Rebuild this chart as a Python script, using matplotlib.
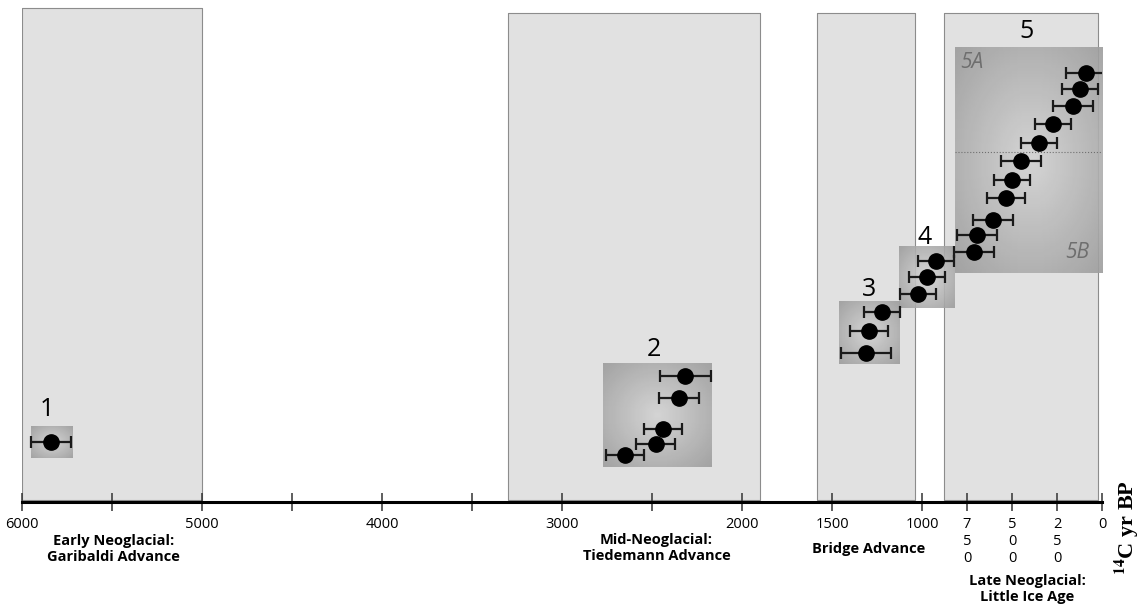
import numpy as np
import matplotlib
matplotlib.use("Agg")
import matplotlib.pyplot as plt

plt.rcParams['font.family'] = ['Open Sans', 'DejaVu Sans']
plt.rcParams['mathtext.fontset'] = 'stix'

# advance periods (14C yr BP) - shaded panels
period_start = [6000, 3300, 1585, 880]
period_end = [5000, 1900, 1040, 25]
period_top = [494, 489, 489, 489]

# sample groups: age, 1-sigma error, vertical position (arbitrary)
g1_age = [5840]
g1_err = [110]
g1_y = [60]

g2_age = [2315, 2350, 2440, 2480, 2650]
g2_err = [140, 110, 105, 110, 105]
g2_y = [126, 104, 73, 58, 47]

g3_age = [1225, 1295, 1310]
g3_err = [100, 105, 140]
g3_y = [190, 171, 149]

g4_age = [925, 970, 1020]
g4_err = [100, 100, 100]
g4_y = [241, 225, 208]

g5_age = [90, 125, 160, 275, 350, 450, 500, 535, 605, 695, 710]
g5_err = [110, 100, 110, 100, 100, 110, 100, 105, 110, 110, 110]
g5_y = [429, 413, 396, 378, 359, 341, 322, 304, 282, 267, 250]

# group boxes
box_x0 = [5952, 2771, 1459, 1128, 817]
box_x1 = [5724, 2168, 1122, 817, -20]
box_y0 = [44, 35, 138, 194, 229]
box_y1 = [76, 139, 201, 256, 455]

ticks = [6000, 5500, 5000, 4500, 4000, 3500, 3000, 2500, 2000, 1500, 1000, 750, 500, 250, 0]
tick_labels = ['6000', '', '5000', '', '4000', '', '3000', '', '2000', '1500', '1000',
               '7\n5\n0', '5\n0\n0', '2\n5\n0', '0']

fig = plt.figure(figsize=(11.44, 6.12), dpi=100)
ax = fig.add_axes([22 / 1144, 110 / 612, 1080 / 1144, 500 / 612])

for s, e, t in zip(period_start, period_end, period_top):
    ax.fill_between([s, e], 2, t, facecolor='#e1e1e1', edgecolor='#8c8c8c', lw=0.8, zorder=1)

# radial gradient boxes
yy, xx = np.mgrid[-1:1:80j, -1:1:80j]
r = np.clip(np.sqrt(xx ** 2 + yy ** 2) / 1.414, 0, 1)
grad = 0.83 - 0.22 * r
for x0, x1, y0, y1 in zip(box_x0, box_x1, box_y0, box_y1):
    ax.imshow(grad, cmap='gray', vmin=0, vmax=1, extent=(x0, x1, y0, y1),
              origin='lower', aspect='auto', alpha=0.9, zorder=2)

ax.plot([817, -20], [350, 350], ls=':', color='#6f6f6f', lw=0.8, zorder=2)

for a, e, y in [(g1_age, g1_err, g1_y), (g2_age, g2_err, g2_y), (g3_age, g3_err, g3_y),
                (g4_age, g4_err, g4_y), (g5_age, g5_err, g5_y)]:
    ax.errorbar(a, y, xerr=e, fmt='o', color='black', ecolor='#1a1a1a', ms=11,
                elinewidth=1.6, capsize=4, capthick=1.6, zorder=3)

# group numbers
ax.text(5861, 92, '1', fontsize=18, ha='center', va='center', zorder=4)
ax.text(2489, 152, '2', fontsize=18, ha='center', va='center', zorder=4)
ax.text(1294, 212, '3', fontsize=18, ha='center', va='center', zorder=4)
ax.text(983, 265, '4', fontsize=18, ha='center', va='center', zorder=4)
ax.text(417, 470, '5', fontsize=18, ha='center', va='center', zorder=4)
ax.text(722, 439, '5A', fontsize=15, style='italic', color='#6e6e6e', ha='center', va='center', zorder=4)
ax.text(139, 249, '5B', fontsize=15, style='italic', color='#6e6e6e', ha='center', va='center', zorder=4)

# period names below the axis
kw = dict(fontsize=10.5, fontweight='bold', ha='center', va='center', linespacing=1.25, clip_on=False)
ax.text(5490, -47, 'Early Neoglacial:\nGaribaldi Advance', **kw)
ax.text(2475, -46, 'Mid-Neoglacial:\nTiedemann Advance', **kw)
ax.text(1296, -47, 'Bridge Advance', **kw)
ax.text(414, -87, 'Late Neoglacial:\nLittle Ice Age', **kw)
ax.text(-139, -26, r'$^{\mathbf{14}}$C yr BP', family='Liberation Serif', fontsize=16,
        fontweight='bold', rotation=90, ha='center', va='center', clip_on=False)

ax.set_xlim(6000, 0)
ax.set_ylim(0, 500)
ax.set_xticks(ticks, tick_labels)
ax.tick_params(axis='x', direction='inout', length=13, width=1.1, pad=4, labelsize=10.5,
               color='#333333')
ax.set_yticks([])
for s in ['top', 'left', 'right']:
    ax.spines[s].set_visible(False)
ax.spines['bottom'].set_linewidth(2.2)
ax.patch.set_alpha(0)

fig.savefig('out.png', dpi=100)
